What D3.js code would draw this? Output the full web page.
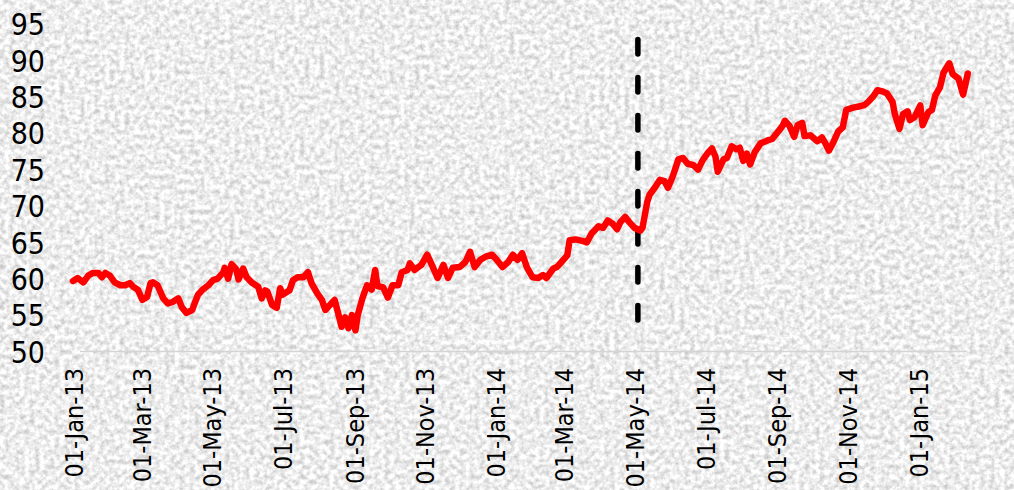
<!DOCTYPE html>
<html>
<head>
<meta charset="utf-8">
<script src="https://cdn.jsdelivr.net/npm/d3@7/dist/d3.min.js"></script>
<style>
  html, body { margin: 0; padding: 0; background: #ebebeb; }
  svg { display: block; }
</style>
</head>
<body>
<svg id="chart" width="1014" height="490"></svg>
<script>
// Observation dates
const tradeDates = [
  "2013-01-01","2013-01-05","2013-01-10","2013-01-14","2013-01-18","2013-01-23","2013-01-26","2013-01-29",
  "2013-02-02","2013-02-06","2013-02-11","2013-02-15","2013-02-19","2013-02-22","2013-02-26",
  "2013-03-02","2013-03-06","2013-03-09","2013-03-11","2013-03-15","2013-03-17","2013-03-20","2013-03-24","2013-03-28",
  "2013-04-02","2013-04-05","2013-04-09","2013-04-14","2013-04-16","2013-04-19","2013-04-23","2013-04-28",
  "2013-05-02","2013-05-06","2013-05-11","2013-05-12","2013-05-15","2013-05-18","2013-05-22","2013-05-24","2013-05-28","2013-05-31",
  "2013-06-05","2013-06-10","2013-06-13","2013-06-16","2013-06-18","2013-06-22","2013-06-26","2013-06-29",
  "2013-07-01","2013-07-05","2013-07-07","2013-07-10","2013-07-14","2013-07-19","2013-07-23","2013-07-26","2013-07-31",
  "2013-08-04","2013-08-07","2013-08-11","2013-08-15","2013-08-18","2013-08-21","2013-08-24","2013-08-27","2013-08-30",
  "2013-09-02","2013-09-04","2013-09-08","2013-09-12","2013-09-16","2013-09-19","2013-09-21","2013-09-26","2013-09-30",
  "2013-10-04","2013-10-09","2013-10-12","2013-10-17","2013-10-19","2013-10-23","2013-10-29",
  "2013-11-03","2013-11-07","2013-11-12","2013-11-17","2013-11-21","2013-11-25",
  "2013-12-01","2013-12-06","2013-12-10","2013-12-14","2013-12-19","2013-12-23","2013-12-29",
  "2014-01-02","2014-01-07","2014-01-12","2014-01-16","2014-01-20","2014-01-24","2014-01-28",
  "2014-02-02","2014-02-07","2014-02-11","2014-02-14","2014-02-20","2014-02-23","2014-02-27",
  "2014-03-04","2014-03-06","2014-03-11","2014-03-17","2014-03-21","2014-03-25","2014-03-31",
  "2014-04-04","2014-04-08","2014-04-12","2014-04-16","2014-04-19","2014-04-23","2014-04-27",
  "2014-05-01","2014-05-06","2014-05-08","2014-05-12","2014-05-14","2014-05-19","2014-05-23","2014-05-27","2014-05-30",
  "2014-06-03","2014-06-08","2014-06-12","2014-06-16","2014-06-21","2014-06-25","2014-06-29",
  "2014-07-03","2014-07-07","2014-07-10","2014-07-12","2014-07-17","2014-07-20","2014-07-24","2014-07-28","2014-07-31",
  "2014-08-03","2014-08-06","2014-08-09","2014-08-13","2014-08-18","2014-08-24","2014-08-28",
  "2014-09-01","2014-09-06","2014-09-08","2014-09-12","2014-09-16","2014-09-19","2014-09-23","2014-09-25","2014-09-30",
  "2014-10-06","2014-10-10","2014-10-13","2014-10-16","2014-10-20","2014-10-24","2014-10-28","2014-10-31",
  "2014-11-06","2014-11-12","2014-11-16","2014-11-19","2014-11-23","2014-11-27",
  "2014-12-02","2014-12-05","2014-12-10","2014-12-12","2014-12-16","2014-12-19","2014-12-23","2014-12-25","2014-12-29",
  "2015-01-03","2015-01-05","2015-01-10","2015-01-13","2015-01-16","2015-01-20","2015-01-23","2015-01-28","2015-01-31",
  "2015-02-05","2015-02-09","2015-02-13"
];

// Index level on each date
const indexLevel = [
  59.7,60.1,59.5,60.4,60.8,60.8,60.2,60.8,
  60.4,59.5,59.1,59.1,59.4,58.9,58.5,
  57.1,57.5,59.4,59.5,59.1,58.4,57.3,56.6,56.8,
  57.3,56.1,55.3,55.7,56.6,57.8,58.5,59.1,
  59.8,60.0,60.9,61.5,60.0,62.0,61.3,59.9,61.4,60.2,
  59.4,58.9,57.3,58.4,58.2,56.4,56.0,58.7,
  57.8,58.2,58.4,59.8,60.2,60.2,60.9,59.4,58.0,
  57.1,55.7,56.4,57.1,55.3,53.4,54.7,53.2,55.0,
  52.9,55.0,57.3,59.1,58.5,61.2,59.0,58.8,57.4,
  59.1,59.1,60.9,61.2,62.1,61.2,61.9,
  63.3,61.9,60.1,61.9,60.1,61.5,
  61.6,62.3,63.7,61.6,62.6,63.0,63.3,
  62.6,61.6,62.3,63.3,62.6,63.5,61.6,
  60.2,60.1,60.5,60.1,61.4,61.6,62.3,
  63.2,65.3,65.4,65.2,65.0,66.2,67.2,
  67.0,68.0,67.6,66.8,67.8,68.5,67.7,
  67.0,66.6,67.0,70.5,71.5,72.6,73.6,73.4,72.5,
  74.0,76.4,76.6,75.8,75.6,75.0,76.3,
  77.2,77.9,76.8,74.7,76.4,76.6,78.2,77.8,78.0,
  76.2,77.2,75.7,77.4,78.6,79.0,79.2,
  80.0,81.0,81.7,81.0,79.5,81.1,81.4,79.6,79.7,
  78.9,79.4,78.6,77.6,78.8,80.2,80.8,83.2,
  83.5,83.7,83.9,84.3,85.0,85.9,
  85.7,85.5,84.3,82.6,80.6,82.6,83.0,81.8,82.2,
  83.8,81.1,82.9,83.2,85.2,86.3,88.3,89.6,88.1,
  87.5,85.3,88.2
];

// Y tick labels
const yTicks = [50, 55, 60, 65, 70, 75, 80, 85, 90, 95];

// X tick dates (every second month)
const xTickDates = [
  "2013-01-01","2013-03-01","2013-05-01","2013-07-01","2013-09-01","2013-11-01",
  "2014-01-01","2014-03-01","2014-05-01","2014-07-01","2014-09-01","2014-11-01","2015-01-01"
];

// Event marker: date and vertical span of the dashed line
const eventDate = ["2014-05-04"];
const eventSpan = [53.6, 93.2];

const parse = d3.timeParse("%Y-%m-%d");
const fmt = d3.timeFormat("%d-%b-%y");
const series = tradeDates.map((d, i) => ({ date: parse(d), value: indexLevel[i] }));

const W = 1014, H = 490;
const svg = d3.select("#chart");

// Granite-like paper texture behind the chart
const defs = svg.append("defs");
const f = defs.append("filter").attr("id", "granite")
  .attr("x", 0).attr("y", 0).attr("width", "100%").attr("height", "100%")
  .attr("color-interpolation-filters", "sRGB");
f.append("feTurbulence").attr("type", "fractalNoise").attr("baseFrequency", 0.2)
  .attr("numOctaves", 3).attr("seed", 11).attr("result", "noise");
f.append("feColorMatrix").attr("type", "matrix")
  .attr("values", "0.42 0 0 0 0.72  0.42 0 0 0 0.72  0.42 0 0 0 0.72  0 0 0 0 1");
svg.append("rect").attr("width", W).attr("height", H).attr("fill", "#ebebeb")
  .attr("filter", "url(#granite)");

// Scales
const x = d3.scaleTime()
  .domain([parse("2013-01-01"), parse("2015-01-01")])
  .range([73, 918]);
const y = d3.scaleLinear().domain([50, 95]).range([351.5, 24]);

// Category axis baseline
svg.append("line")
  .attr("x1", 80).attr("x2", 967)
  .attr("y1", y(50)).attr("y2", y(50))
  .attr("stroke", "#d4d4d4").attr("stroke-width", 1.5);

// Y axis labels
const yAxis = d3.axisLeft(y).tickValues(yTicks).tickSize(0).tickPadding(0);
const gy = svg.append("g").attr("transform", "translate(45,0)").call(yAxis);
gy.select(".domain").remove();
gy.selectAll("text")
  .attr("fill", "#000")
  .attr("font-family", "'DejaVu Sans Condensed', 'DejaVu Sans', sans-serif")
  .attr("font-size", 30)
  .attr("dy", "0.36em");

// X axis labels, rotated
const xAxis = d3.axisBottom(x).tickValues(xTickDates.map(parse)).tickFormat(fmt)
  .tickSize(0).tickPadding(0);
const gx = svg.append("g").attr("transform", "translate(0,368)").call(xAxis);
gx.select(".domain").remove();
gx.selectAll("text")
  .attr("fill", "#000")
  .attr("font-family", "'DejaVu Sans Condensed', 'DejaVu Sans', sans-serif")
  .attr("font-size", 25)
  .attr("text-anchor", "end")
  .attr("transform", "rotate(-90)")
  .attr("x", 0).attr("y", 0)
  .attr("dy", "0.36em");

// Dashed event marker
const ev = parse(eventDate[0]);
svg.append("line")
  .attr("x1", x(ev)).attr("x2", x(ev))
  .attr("y1", y(eventSpan[1]) + 2.5).attr("y2", y(eventSpan[0]) - 2.5)
  .attr("stroke", "#000").attr("stroke-width", 5.5)
  .attr("stroke-linecap", "round")
  .attr("stroke-dasharray", "14.5,23.5");

// Index line
const line = d3.line().x(d => x(d.date)).y(d => y(d.value));
svg.append("path").datum(series)
  .attr("d", line)
  .attr("fill", "none")
  .attr("stroke", "#ff0000")
  .attr("stroke-width", 6.5)
  .attr("stroke-linejoin", "round")
  .attr("stroke-linecap", "round");
</script>
</body>
</html>
